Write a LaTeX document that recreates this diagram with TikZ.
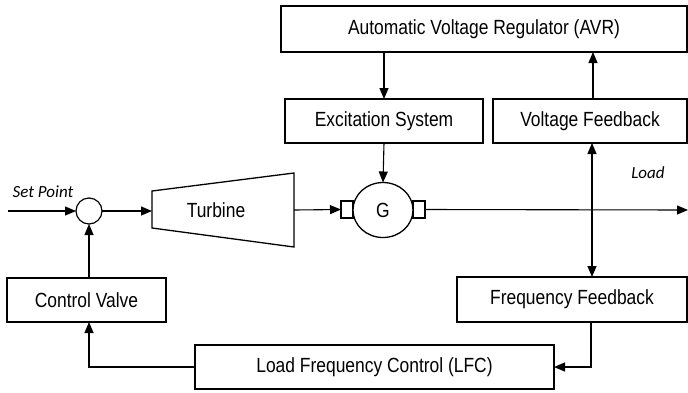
\documentclass[tikz,border=0pt]{standalone}
\usepackage{fontspec}
\setmainfont{Liberation Sans}[FakeStretch=0.85]
\newfontfamily\labelfont{Carlito}
\usetikzlibrary{arrows.meta,calc,shapes.geometric}
\begin{document}
\begin{tikzpicture}[x=1pt,y=-1pt,
  line width=1.1pt,
  every node/.style={inner sep=0pt,outer sep=0pt},
  blockbox/.style={draw,line width=1.3pt,font=\fontsize{20.5}{24}\selectfont},
  arr/.style={-{Triangle[length=11pt,width=9pt]}},
  darr/.style={{Triangle[length=11pt,width=9pt]}-{Triangle[length=11pt,width=9pt]}},
  lbl/.style={font=\labelfont\itshape\fontsize{17}{20}\selectfont}]
\useasboundingbox (0,0) rectangle (688,392);
% blocks
\node[blockbox,minimum width=406pt,minimum height=46pt] (avr) at (484,29) {Automatic Voltage Regulator (AVR)};
\node[blockbox,minimum width=198pt,minimum height=44pt] (exc) at (384,121) {Excitation System};
\node[blockbox,minimum width=194pt,minimum height=44pt] (vf) at (590,121) {Voltage Feedback};
\node[blockbox,minimum width=159pt,minimum height=44pt] (cv) at (86.5,300) {Control Valve};
\node[blockbox,minimum width=230pt,minimum height=45pt] (ff) at (572,299.5) {Frequency Feedback};
\node[blockbox,minimum width=359pt,minimum height=44pt] (lfc) at (374.5,367) {Load Frequency Control (LFC)};
% summing junction
\node[draw,circle,minimum size=26pt,line width=1.2pt] (sum) at (89,211) {};
% turbine
\coordinate (t1) at (152,191);
\coordinate (t2) at (294,173);
\coordinate (t3) at (294,247);
\coordinate (t4) at (152,228);
\draw[line width=1.3pt] (t1) -- (t2) -- (t3) -- (t4) -- cycle;
\node[font=\fontsize{20.5}{24}\selectfont] (turb) at (216,210) {Turbine};
\coordinate (tin) at (152,211);
\coordinate (tout) at (294,210);
% generator
\node[draw,line width=1.2pt,minimum width=12pt,minimum height=17pt] (gl) at (347,209.5) {};
\node[draw,line width=1.2pt,minimum width=12pt,minimum height=17pt] (gr) at (419,209.5) {};
\node[draw,ellipse,fill=white,line width=1.3pt,minimum width=60pt,minimum height=55pt,font=\fontsize{20.5}{24}\selectfont] (gen) at (383,210) {G};
% labels
\node[lbl] (sp) at (43,192) {Set Point};
\node[lbl] (load) at (648,173) {Load};
\coordinate (spin) at (8,211);
\coordinate (loadout) at (688,210);
% connectors
\draw[arr] (spin) -- (sum.west);
\draw[arr] (sum.east) -- (tin);
\draw[arr] (tout) -- (gl.west);
\draw[arr] (gr.east) -- (loadout);
\draw[arr] (avr.south -| exc.north) -- (exc.north);
\draw[arr] (exc.south) -- (gen.north);
\draw[arr] ($(vf.north)+(3,0)$) -- ($(avr.south -| vf.north)+(3,0)$);
\draw[darr] ($(vf.south)+(2,0)$) -- ($(ff.north -| vf.south)+(2,0)$);
\draw[arr] ($(ff.south -| vf.south)+(1,0)$) |- (lfc.east);
\draw[arr] (lfc.west) -| ($(cv.south)+(2.5,0)$);
\draw[arr] ($(cv.north)+(2.5,0)$) -- (sum.south);
\end{tikzpicture}
\end{document}
